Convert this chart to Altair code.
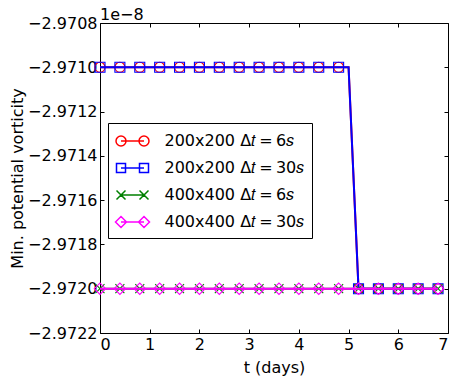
import altair as alt
import pandas as pd

# time (days)
t_days = [0.0, 0.2, 0.4, 0.6, 0.8, 1.0, 1.2, 1.4, 1.6, 1.8, 2.0, 2.2, 2.4, 2.6, 2.8,
          3.0, 3.2, 3.4, 3.6, 3.8, 4.0, 4.2, 4.4, 4.6, 4.8, 5.0, 5.2, 5.4, 5.6, 5.8,
          6.0, 6.2, 6.4, 6.6, 6.8]

# minimum potential vorticity, in units of 1e-8
pv_200_dt6 = [-2.9710, -2.9710, -2.9710, -2.9710, -2.9710, -2.9710, -2.9710, -2.9710,
              -2.9710, -2.9710, -2.9710, -2.9710, -2.9710, -2.9710, -2.9710, -2.9710,
              -2.9710, -2.9710, -2.9710, -2.9710, -2.9710, -2.9710, -2.9710, -2.9710,
              -2.9710, -2.9710, -2.9720, -2.9720, -2.9720, -2.9720, -2.9720, -2.9720,
              -2.9720, -2.9720, -2.9720]
pv_200_dt30 = [-2.9710, -2.9710, -2.9710, -2.9710, -2.9710, -2.9710, -2.9710, -2.9710,
               -2.9710, -2.9710, -2.9710, -2.9710, -2.9710, -2.9710, -2.9710, -2.9710,
               -2.9710, -2.9710, -2.9710, -2.9710, -2.9710, -2.9710, -2.9710, -2.9710,
               -2.9710, -2.9710, -2.9720, -2.9720, -2.9720, -2.9720, -2.9720, -2.9720,
               -2.9720, -2.9720, -2.9720]
pv_400_dt6 = [-2.9720, -2.9720, -2.9720, -2.9720, -2.9720, -2.9720, -2.9720, -2.9720,
              -2.9720, -2.9720, -2.9720, -2.9720, -2.9720, -2.9720, -2.9720, -2.9720,
              -2.9720, -2.9720, -2.9720, -2.9720, -2.9720, -2.9720, -2.9720, -2.9720,
              -2.9720, -2.9720, -2.9720, -2.9720, -2.9720, -2.9720, -2.9720, -2.9720,
              -2.9720, -2.9720, -2.9720]
pv_400_dt30 = [-2.9720, -2.9720, -2.9720, -2.9720, -2.9720, -2.9720, -2.9720, -2.9720,
               -2.9720, -2.9720, -2.9720, -2.9720, -2.9720, -2.9720, -2.9720, -2.9720,
               -2.9720, -2.9720, -2.9720, -2.9720, -2.9720, -2.9720, -2.9720, -2.9720,
               -2.9720, -2.9720, -2.9720, -2.9720, -2.9720, -2.9720, -2.9720, -2.9720,
               -2.9720, -2.9720, -2.9720]

series_names = ["200x200 Δ𝑡\u2009=\u20096𝑠", "200x200 Δ𝑡\u2009=\u200930𝑠",
                "400x400 Δ𝑡\u2009=\u20096𝑠", "400x400 Δ𝑡\u2009=\u200930𝑠"]
series_colors = ["#ff0000", "#0000ff", "#008000", "#ff00ff"]

x_ticks = [0, 1, 2, 3, 4, 5, 6, 7]
y_ticks = [-2.9722, -2.9720, -2.9718, -2.9716, -2.9714, -2.9712, -2.9710, -2.9708]
y_offset_label = ["1e−8"]

rows = []
for name, vals in zip(series_names, [pv_200_dt6, pv_200_dt30, pv_400_dt6, pv_400_dt30]):
    for i, (t, v) in enumerate(zip(t_days, vals)):
        rows.append({"t": t, "pv": v, "series": name, "i": i})
df = pd.DataFrame(rows)

FONT = "DejaVu Sans"

x_scale = alt.Scale(domain=[0, 7], nice=False)
y_scale = alt.Scale(domain=[-2.9722, -2.9708], nice=False, zero=False)
color_scale = alt.Scale(domain=series_names, range=series_colors)

# legend symbols: line with a marker at both ends (unit = 10 px)
legend_paths = [
    "M-1.15,0L1.15,0 M-0.65,0 A0.5,0.5 0 1,1 -1.65,0 A0.5,0.5 0 1,1 -0.65,0 "
    "M1.65,0 A0.5,0.5 0 1,1 0.65,0 A0.5,0.5 0 1,1 1.65,0",
    "M-1.15,0L1.15,0 M-1.6,-0.45L-0.7,-0.45L-0.7,0.45L-1.6,0.45Z "
    "M0.7,-0.45L1.6,-0.45L1.6,0.45L0.7,0.45Z",
    "M-1.15,0L1.15,0 M-1.6,-0.45L-0.7,0.45 M-1.6,0.45L-0.7,-0.45 "
    "M0.7,-0.45L1.6,0.45 M0.7,0.45L1.6,-0.45",
    "M-1.15,0L1.15,0 M-1.7,0L-1.15,-0.55L-0.6,0L-1.15,0.55Z "
    "M0.6,0L1.15,-0.55L1.7,0L1.15,0.55Z",
]
shape_scale = alt.Scale(domain=series_names, range=legend_paths)

legend = alt.Legend(title=None, orient="none", legendX=8, legendY=100)

x_axis = alt.Axis(orient="bottom", values=x_ticks, format="d", tickSize=4, offset=-4,
                  domain=False, labelPadding=3, grid=False, title="t (days)",
                  titlePadding=7)
y_axis = alt.Axis(orient="left", values=y_ticks, format=".4f", tickSize=4, offset=-4,
                  domain=False, labelPadding=3, grid=False,
                  title="Min. potential vorticity", titlePadding=2)

marker_shapes = ["circle", "square", "M-1,-1L1,1M-1,1L1,-1", "diamond"]
marker_sizes = [100, 100, 81, 130]

base = alt.Chart(df)
layers = []
for k, name in enumerate(series_names):
    sub = base.transform_filter(alt.datum.series == name)
    first = (k == 0)
    line = sub.mark_line(strokeWidth=2, clip=True).encode(
        x=alt.X("t:Q", scale=x_scale, axis=x_axis if first else None),
        y=alt.Y("pv:Q", scale=y_scale, axis=y_axis if first else None),
        color=alt.Color("series:N", scale=color_scale, legend=legend),
    )
    pts = sub.transform_filter("datum.i % 2 == 0").mark_point(
        shape=marker_shapes[k], size=marker_sizes[k], filled=False,
        strokeWidth=1.1, opacity=1,
    ).encode(
        x=alt.X("t:Q", scale=x_scale, axis=None),
        y=alt.Y("pv:Q", scale=y_scale, axis=None),
        color=alt.Color("series:N", scale=color_scale, legend=legend),
    )
    layers += [line, pts]

# layer carrying the legend symbols and the mirrored top/right tick marks
frame = base.transform_filter("false").mark_point(filled=False).encode(
    x=alt.X("t:Q", scale=x_scale,
            axis=alt.Axis(orient="top", values=x_ticks, tickSize=4, offset=-4,
                          labels=False, domain=False, grid=False, title=None)),
    y=alt.Y("pv:Q", scale=y_scale,
            axis=alt.Axis(orient="right", values=y_ticks, tickSize=4, offset=-4,
                          labels=False, domain=False, grid=False, title=None)),
    color=alt.Color("series:N", scale=color_scale, legend=legend),
    shape=alt.Shape("series:N", scale=shape_scale, legend=legend),
)
layers.append(frame)

# scale-offset label of the y axis (matplotlib style "1e-8" above the axis)
offset_text = alt.Chart(pd.DataFrame({"label": y_offset_label})).mark_text(
    align="left", baseline="alphabetic", font=FONT, fontSize=16, color="black",
).encode(
    x=alt.value(0), y=alt.value(-3.5), text="label:N",
)
layers.append(offset_text)

chart = alt.layer(*layers).resolve_axis(x="independent", y="independent").properties(
    width=348,
    height=310,
    padding={"left": 92, "top": 15, "right": 5, "bottom": 43},
    autosize=alt.AutoSizeParams(type="none"),
).configure_view(
    stroke="black", strokeWidth=1,
).configure_axis(
    labelFont=FONT, labelFontSize=16, labelColor="black",
    titleFont=FONT, titleFontSize=16, titleFontWeight="normal", titleColor="black",
    tickColor="black", tickWidth=1,
).configure_legend(
    labelFont=FONT, labelFontSize=16, labelColor="black", labelLimit=400,
    padding=7, rowPadding=8, symbolSize=400, symbolStrokeWidth=1.5,
    symbolOffset=6.5, labelOffset=21, strokeColor="black", fillColor="white",
    cornerRadius=0, symbolFillColor="transparent",
)

chart.save("out.html", embed_options={"renderer": "svg", "actions": False})
